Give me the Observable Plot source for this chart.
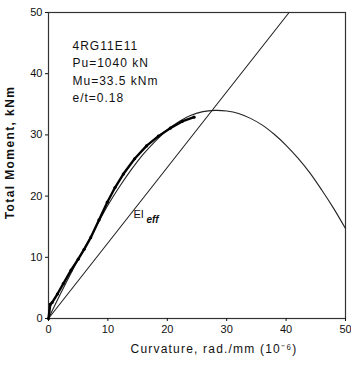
<!DOCTYPE html>
<html><head><meta charset="utf-8">
<script src="https://cdn.jsdelivr.net/npm/d3@7"></script>
<script src="https://cdn.jsdelivr.net/npm/@observablehq/plot@0.6"></script>
<style>
body{margin:0;background:#fff;}
#chart svg{font-family:"Liberation Sans",Arial,sans-serif;}
</style>
</head><body><div id="chart"></div>
<script>
// Experimental (thick line with points)
const expCurv = [0, 0.3, 0.6, 1.5, 2.5, 3.8, 5, 6, 7.1, 8.5, 9.9, 11.2, 12.6, 14.5, 16.5, 18.5, 20.5, 22.5, 24.5];
const expMom  = [0, 2.3, 2.6, 4.0, 5.7, 7.9, 9.7, 11.3, 13.2, 16.1, 19.0, 21.4, 23.6, 26.1, 28.2, 29.8, 31.1, 32.2, 32.9];
// Analytical curve
const anaCurv = [0, 2, 4, 6, 8, 10, 12, 14, 16, 18, 20, 22, 24, 26, 28, 30, 32, 34, 36, 38, 40, 42, 44, 46, 48, 50];
const anaMom  = [0, 4, 7.8, 11.4, 15, 18.5, 21.6, 24.4, 26.9, 29, 30.8, 32.2, 33.2, 33.8, 34.0, 33.9, 33.5, 32.7, 31.6, 30.1, 28.3, 26.2, 23.8, 21, 18, 14.7];
// EI_eff line
const eiCurv = [0, 40.5];
const eiMom  = [0, 50];
const xTicks = [0, 10, 20, 30, 40, 50];
const yTicks = [0, 10, 20, 30, 40, 50];
const infoLines = ["4RG11E11", "Pu=1040 kN", "Mu=33.5 kNm", "e/t=0.18"];
const eiLabel = {x: 14.3, y: 17.0, main: "EI", sub: "eff"};
const xTitle = "Curvature, rad./mm (10⁻⁶)";
const yTitle = "Total Moment, kNm";

const exp = expCurv.map((c, i) => ({c, m: expMom[i]}));
const ana = anaCurv.map((c, i) => ({c, m: anaMom[i]}));
const ei = eiCurv.map((c, i) => ({c, m: eiMom[i]}));

const chart = Plot.plot({
  width: 351, height: 369,
  marginLeft: 48, marginRight: 6, marginTop: 12, marginBottom: 51,
  style: {fontSize: "11px", fontFamily: "Liberation Sans, Arial, sans-serif", color: "#111"},
  x: {domain: [0, 50]},
  y: {domain: [0, 50]},
  marks: [
    Plot.frame({stroke: "#333", strokeWidth: 1.2}),
    Plot.axisX({ticks: xTicks, tickSize: 3, tickPadding: 4, label: null, fontSize: 11, fill: "#111"}),
    Plot.axisY({ticks: yTicks, tickSize: 3, tickPadding: 3, label: null, fontSize: 11, fill: "#111"}),
    Plot.text([xTitle], {frameAnchor: "bottom", textAnchor: "middle", dx: 17, dy: 34, fontSize: 12, fill: "#111", className: "xtitle"}),
    Plot.text([yTitle], {frameAnchor: "left", textAnchor: "middle", dx: -38, dy: -13, rotate: -90, fontWeight: "bold", fontSize: 12, fill: "#111", className: "ytitle"}),
    Plot.line(ana, {x: "c", y: "m", curve: "catmull-rom", stroke: "#222", strokeWidth: 1.1}),
    Plot.line(ei, {x: "c", y: "m", stroke: "#222", strokeWidth: 1.1}),
    Plot.line(exp, {x: "c", y: "m", stroke: "#000", strokeWidth: 2.4}),
    Plot.dot(exp, {x: "c", y: "m", r: 1.6, fill: "#000"}),
    Plot.text([infoLines.join("\n")], {frameAnchor: "top-left", dx: 24, dy: 25, textAnchor: "start", lineAnchor: "top",
      lineHeight: 1.45, fontSize: 12, fill: "#111", className: "info"}),
    Plot.text([eiLabel], {x: "x", y: "y", text: "main", textAnchor: "start", fontSize: 11, fill: "#111"}),
    Plot.text([eiLabel], {x: "x", y: "y", text: "sub", textAnchor: "start", dx: 13, dy: 5, fontSize: 10, fontWeight: "bold", fontStyle: "italic", fill: "#111"})
  ]
});
d3.select(chart).selectAll(".xtitle text").style("letter-spacing", "1.2px");
d3.select(chart).selectAll(".ytitle text").style("letter-spacing", "1.4px");
d3.select(chart).selectAll(".info text").style("letter-spacing", "1px");
document.getElementById("chart").appendChild(chart);
</script>
</body></html>
